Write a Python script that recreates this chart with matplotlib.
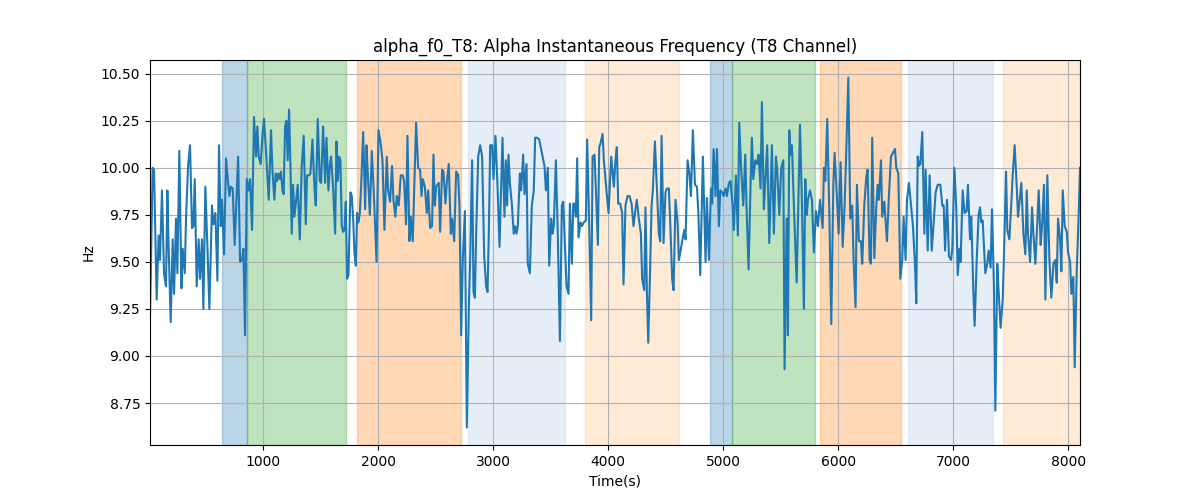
import matplotlib
matplotlib.use("Agg")
import matplotlib.pyplot as plt
import numpy as np

# time stamps (s)
time_s = [
    17, 40, 52, 75, 92, 104, 121, 139, 156, 168, 179, 197, 214, 226, 243, 255,
    272, 290, 301, 319, 330, 348, 365, 382, 394, 406, 423, 440, 452, 469, 481,
    498, 516, 533, 556, 568, 585, 603, 617, 632, 643, 661, 678, 696, 707, 719,
    736, 753, 783, 800, 817, 829, 843, 858, 875, 887, 904, 921, 939, 950, 962,
    979, 997, 1008, 1026, 1049,
    1069, 1081, 1098, 1110, 1121, 1133, 1145, 1156, 1168, 1179, 1191, 1203,
    1214, 1226, 1237, 1249, 1261, 1272, 1284, 1301, 1319, 1336, 1353, 1371,
    1382, 1400, 1411, 1429, 1446, 1458, 1475, 1493, 1504, 1522, 1539, 1551,
    1568, 1580, 1591, 1609, 1626, 1638, 1649, 1661, 1672, 1684, 1696, 1707,
    1719, 1730, 1742, 1759, 1771, 1783, 1794, 1806, 1817, 1829, 1841, 1852,
    1870, 1887, 1899, 1910, 1928, 1945, 1962, 1986, 2003, 2020, 2038, 2055,
    2075, 2087, 2104, 2121, 2133, 2150, 2162, 2179, 2197, 2214, 2226, 2243,
    2255, 2272, 2284, 2301, 2319, 2330, 2348, 2365, 2377, 2388, 2406, 2423,
    2435, 2452, 2469, 2481, 2493, 2504, 2516, 2527, 2539, 2556, 2568, 2585,
    2597, 2614, 2632, 2643, 2661, 2678, 2696, 2707, 2722, 2736, 2754, 2771,
    2788, 2800, 2817, 2829, 2841, 2852, 2870, 2887, 2904, 2922, 2939, 2951,
    2962, 2974, 2991, 3003, 3020, 3038, 3055,
    3069, 3081, 3098, 3110, 3121, 3133, 3145, 3162, 3179, 3191, 3203, 3214,
    3232, 3243, 3261, 3272, 3290, 3301, 3319, 3336, 3353, 3365, 3382, 3400,
    3423, 3446, 3458, 3475, 3487, 3504, 3516, 3527, 3545, 3562, 3580, 3597,
    3609, 3626, 3638, 3655, 3667, 3684, 3696, 3707, 3719, 3730, 3742, 3759,
    3771, 3788, 3806, 3817, 3835, 3852, 3864, 3881, 3893, 3910, 3922, 3933,
    3951, 3962, 3986, 4003, 4026, 4049,
    4063, 4075, 4087, 4104, 4121, 4133, 4150, 4168, 4185, 4203, 4220, 4237,
    4249, 4266, 4284, 4295, 4313, 4324, 4336, 4348, 4365, 4377, 4388, 4406,
    4423, 4440, 4452, 4464, 4481, 4498, 4510, 4527, 4539, 4556, 4568, 4585,
    4603, 4614, 4632, 4643, 4661, 4672, 4690, 4707, 4719, 4736, 4754, 4771,
    4783, 4800, 4823, 4846, 4858, 4875, 4893, 4904, 4916, 4933, 4945, 4962,
    4974, 4991, 5003, 5020, 5032, 5049,
    5063, 5081, 5092, 5110, 5127, 5139, 5156, 5174, 5191, 5203, 5220, 5237,
    5249, 5261, 5278, 5295, 5307, 5324, 5336, 5353, 5371, 5382, 5400, 5423,
    5440, 5458, 5469, 5487, 5504, 5522, 5533, 5551, 5562, 5574, 5585, 5597,
    5614, 5638, 5667, 5684, 5701, 5713, 5725, 5736, 5754, 5771, 5788, 5806,
    5823, 5841, 5864, 5875, 5887, 5904, 5922, 5939, 5957, 5968, 5986, 6003,
    6020, 6038, 6055,
    6069, 6087, 6104, 6121, 6133, 6150, 6162, 6179, 6197, 6208, 6226, 6243,
    6255, 6272, 6284, 6295, 6313, 6330, 6342, 6353, 6371, 6382, 6400, 6423,
    6440, 6458, 6475, 6493, 6504, 6522, 6539, 6556, 6568, 6585, 6597, 6614,
    6632, 6649, 6667, 6678, 6690, 6701, 6713, 6730, 6748, 6759, 6777, 6794,
    6812, 6829, 6846, 6864, 6887, 6904, 6916, 6928, 6945, 6962, 6980, 6991,
    7009, 7026, 7038, 7055,
    7063, 7081, 7098, 7116, 7127, 7145, 7156, 7174, 7185, 7203, 7220, 7232,
    7243, 7255, 7278, 7295, 7307, 7324, 7336, 7353, 7365, 7382, 7394, 7411,
    7429, 7440, 7458, 7469, 7487, 7504, 7516, 7533, 7551, 7562, 7574, 7591,
    7609, 7626, 7638, 7649, 7667, 7684, 7696, 7713, 7730, 7742, 7759, 7771,
    7788, 7800, 7817, 7835, 7852, 7870, 7887, 7899, 7910, 7928, 7939, 7951,
    7968, 7986, 7997, 8015, 8026, 8043, 8055, 8072, 8090, 8101,
]

# alpha instantaneous frequency (Hz)
freq_hz = [
    9.21, 10.00, 9.99, 9.30, 9.64, 9.51, 9.88, 9.44, 9.37, 9.88, 9.58, 9.18,
    9.62, 9.33, 9.73, 9.44, 10.09, 9.36, 9.57, 9.44, 9.73, 10.01, 10.12, 9.68,
    9.69, 9.94, 9.37, 9.62, 9.41, 9.62, 9.25, 9.90, 9.58, 9.25, 9.80, 9.70,
    9.76, 9.40, 10.12, 9.69, 9.83, 9.54, 10.05, 9.92, 9.85, 9.90, 9.89, 9.59,
    10.06, 9.50, 9.51, 9.57, 9.11, 9.94, 9.88, 9.94, 9.67, 10.27, 10.06, 10.22,
    10.06, 10.02, 10.19, 10.26, 10.08, 9.83,
    10.20, 9.99, 9.83, 9.97, 9.93, 9.97, 9.94, 9.98, 9.88, 9.86, 10.22, 10.25,
    10.04, 10.31, 10.04, 9.65, 9.91, 9.74, 9.81, 9.91, 9.62, 10.01, 10.17, 9.70,
    9.96, 9.96, 9.97, 10.15, 9.90, 9.80, 10.26, 9.93, 9.92, 10.22, 9.92, 10.16,
    9.88, 10.01, 10.06, 9.89, 9.65, 10.14, 9.93, 10.06, 10.04, 9.69, 9.66, 9.67,
    9.82, 9.41, 9.43, 9.87, 9.85, 9.73, 9.55, 9.48, 9.76, 9.71, 9.76, 9.90,
    10.19, 9.78, 10.12, 9.97, 9.75, 10.09, 9.87, 9.50, 10.20, 10.14, 10.04, 9.67,
    10.06, 9.88, 9.82, 10.01, 9.83, 9.74, 9.85, 9.80, 9.96, 9.96, 9.93, 9.70,
    10.17, 9.61, 9.74, 9.61, 9.99, 10.24, 10.00, 9.99, 9.85, 9.94, 9.90, 9.76,
    9.88, 9.68, 9.69, 10.07, 9.80, 9.90, 9.91, 9.92, 9.66, 9.99, 9.98, 9.81,
    9.92, 10.02, 9.65, 9.73, 9.61, 9.98, 9.96, 9.80, 9.11, 9.51, 9.77, 8.62,
    9.25, 9.51, 10.04, 9.34, 9.31, 9.65, 10.06, 10.12, 10.06, 9.53, 9.37, 9.34,
    9.65, 10.12, 10.12, 9.94, 10.17, 9.90, 9.58,
    9.90, 10.16, 9.74, 10.04, 9.80, 10.07, 9.92, 9.81, 9.65, 9.69, 9.65, 9.69,
    9.97, 9.88, 10.07, 9.86, 10.02, 9.49, 9.44, 9.80, 9.88, 10.16, 10.16, 10.15,
    10.08, 10.01, 9.88, 10.00, 9.48, 9.73, 9.65, 9.69, 10.04, 9.64, 9.08, 9.80,
    9.82, 9.55, 9.37, 9.33, 9.81, 9.49, 9.81, 9.81, 9.74, 10.05, 9.63, 9.71,
    9.69, 9.71, 9.72, 10.15, 9.69, 9.19, 10.06, 10.07, 9.88, 9.59, 10.11, 10.13,
    10.18, 10.04, 9.87, 9.76, 10.06, 9.90,
    10.04, 10.11, 9.81, 9.81, 9.76, 9.38, 9.80, 9.85, 9.85, 9.81, 9.69, 9.78,
    9.83, 9.73, 9.65, 9.41, 9.35, 9.79, 9.35, 9.07, 9.48, 9.80, 9.88, 10.14,
    9.90, 9.65, 9.61, 10.17, 9.60, 9.87, 9.89, 9.89, 9.71, 9.41, 9.35, 9.83,
    9.71, 9.51, 9.57, 9.61, 9.67, 9.62, 10.04, 9.96, 9.85, 10.20, 9.91, 9.90,
    9.77, 9.43, 10.06, 9.50, 9.84, 9.51, 9.89, 9.81, 10.10, 9.85, 10.10, 9.69,
    9.88, 9.87, 9.85, 9.89, 9.85, 9.92,
    9.93, 9.80, 9.67, 9.96, 9.64, 10.24, 9.99, 9.80, 10.07, 9.78, 9.46, 9.90,
    10.16, 9.94, 10.04, 10.02, 10.07, 9.89, 10.35, 9.78, 9.99, 10.12, 9.60, 10.12,
    9.65, 10.06, 9.99, 9.75, 10.00, 10.04, 8.93, 9.73, 9.11, 10.20, 10.07, 10.12,
    9.80, 9.39, 10.23, 9.81, 9.25, 9.94, 9.75, 9.83, 9.88, 9.83, 9.55, 9.77,
    9.69, 9.83, 9.68, 10.00, 9.93, 10.26, 9.76, 9.17, 9.92, 10.08, 9.87, 9.65,
    10.03, 9.58, 9.80,
    10.08, 10.48, 9.73, 9.80, 9.51, 9.26, 9.91, 9.61, 9.61, 9.49, 9.80, 9.95,
    9.99, 9.51, 9.49, 10.16, 9.52, 9.79, 9.91, 9.83, 10.04, 9.74, 9.82, 9.61,
    9.85, 10.06, 10.08, 10.10, 10.00, 9.97, 9.41, 9.51, 9.74, 9.51, 9.83, 9.92,
    9.80, 9.69, 9.48, 9.28, 10.06, 10.01, 10.02, 10.19, 9.65, 9.99, 9.56, 9.96,
    9.56, 9.71, 9.87, 9.91, 9.91, 9.80, 9.80, 9.56, 9.83, 9.53, 9.51, 9.57,
    10.00, 9.78, 9.43, 9.57,
    9.50, 9.88, 9.76, 9.77, 9.91, 9.62, 9.74, 9.34, 9.16, 9.51, 9.75, 9.79,
    9.71, 9.72, 9.44, 9.49, 9.56, 9.47, 9.78, 9.37, 8.71, 9.49, 9.34, 9.15,
    9.30, 9.53, 9.98, 9.67, 9.62, 9.81, 9.96, 10.12, 9.90, 9.74, 9.81, 9.92,
    9.65, 9.54, 9.88, 9.65, 9.50, 9.79, 9.65, 9.49, 9.71, 9.88, 9.59, 9.69,
    9.91, 9.30, 9.96, 9.51, 9.31, 9.49, 9.51, 9.39, 9.73, 9.62, 9.45, 9.88,
    9.69, 9.66, 9.55, 9.50, 9.33, 9.42, 8.94, 9.44, 9.76, 10.00,
]

# shaded segments: (start, end, colour)
span_start = [643, 858, 1817, 2783, 3800, 4887, 5075, 5843, 6609, 7435]
span_end = [858, 1722, 2722, 3626, 4614, 5075, 5800, 6548, 7348, 8101]
span_color = ['tab:blue', 'tab:green', 'tab:orange', '#aec7e8', '#ffbb78',
              'tab:blue', 'tab:green', 'tab:orange', '#aec7e8', '#ffbb78']

t = np.array(time_s)
f = np.array(freq_hz)

fig, ax = plt.subplots(figsize=(12, 5), dpi=100)
for s, e, c in zip(span_start, span_end, span_color):
    ax.axvspan(s, e, color=c, alpha=0.3)
ax.plot(t, f, color='tab:blue', linewidth=1.5)
ax.set_xlim(t[0], t[-1])
ax.set_title('alpha_f0_T8: Alpha Instantaneous Frequency (T8 Channel)')
ax.set_xlabel('Time(s)')
ax.set_ylabel('Hz')
ax.grid(True)
fig.savefig('out.png')
